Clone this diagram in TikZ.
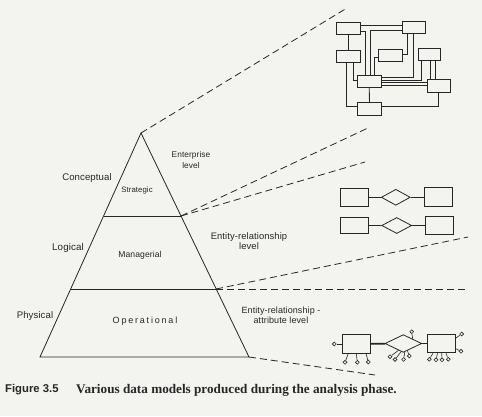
\documentclass[tikz,border=0pt]{standalone}
\usepackage{fontspec}
\setmainfont{Liberation Serif}
\newfontfamily\labfont[LetterSpace=1]{Liberation Sans}
\newfontfamily\opfont[LetterSpace=20]{Liberation Sans}
\newfontfamily\capsans{Liberation Sans}
\usetikzlibrary{shapes.geometric}
\definecolor{paper}{RGB}{243,243,240}
\definecolor{ink}{RGB}{38,38,38}
\begin{document}
\begin{tikzpicture}[x=1pt,y=-1pt,
  lab/.style={font=\labfont\fontsize{9.6}{11}\selectfont, inner sep=0, text=ink, align=center},
  box/.style={draw=ink, line width=0.9pt, inner sep=0, minimum width=24pt, minimum height=12pt},
  erbox/.style={draw=ink, line width=0.8pt, inner sep=0, minimum width=28pt, minimum height=18pt},
  rel/.style={diamond, draw=ink, line width=0.8pt, inner sep=0, minimum width=29pt, minimum height=16pt},
  attr/.style={circle, draw=ink, line width=0.6pt, inner sep=0, minimum size=3.8pt, fill=paper},
  link/.style={draw=ink, line width=0.9pt},
  erlink/.style={draw=ink, line width=1.1pt},
  eralink/.style={draw=ink, line width=1.8pt},
  alink/.style={draw=ink, line width=0.6pt},
  pyr/.style={draw=ink, line width=0.8pt, line join=miter},
  dashline/.style={draw=ink, line width=0.8pt, dash pattern=on 7pt off 4pt}]
\useasboundingbox (0,0) rectangle (482,416);
\fill[paper] (0,0) rectangle (482,416);

% pyramid corners
\coordinate (A) at (141,133);
\coordinate (SL) at (104,216);
\coordinate (SR) at (181,216);
\coordinate (ML) at (71,289);
\coordinate (MR) at (216,289);
\coordinate (BL) at (40,357);
\coordinate (BR) at (249,357);
\draw[pyr] (A) -- (BL) -- (BR) -- cycle;
\draw[pyr] (SL) -- (SR);
\draw[pyr] (ML) -- (MR);

% dashed projection lines
\coordinate (E1) at (347,8);
\coordinate (E2) at (370,127);
\coordinate (E3) at (365,162);
\coordinate (E4) at (468,237);
\coordinate (E5) at (468,289);
\coordinate (E6) at (375,375);
\draw[dashline] (A) -- (E1);
\draw[dashline] (SR) -- (E2);
\draw[dashline] (SR) -- (E3);
\draw[dashline] (MR) -- (E4);
\draw[dashline] (MR) -- (E5);
\draw[dashline] (BR) -- (E6);

% labels
\node[lab] (conc) at (87,178) {Conceptual};
\node[lab, font=\labfont\fontsize{7.8}{9}\selectfont] (strat) at (137,190) {Strategic};
\node[lab, font=\labfont\fontsize{8.3}{11}\selectfont] (ent) at (191,160.5) {Enterprise\\level};
\node[lab, font=\labfont\fontsize{9.8}{11}\selectfont] (logi) at (68,248) {Logical};
\node[lab, font=\labfont\fontsize{8.6}{10}\selectfont] (mana) at (140,255) {Managerial};
\node[lab, font=\labfont\fontsize{9.4}{9.8}\selectfont] (erl) at (249,241.3) {Entity-relationship\\level};
\node[lab] (phys) at (35,316) {Physical};
\node[lab, font=\opfont\fontsize{9}{10}\selectfont] (oper) at (145,321) {Operational};
\node[lab, font=\labfont\fontsize{9}{9.6}\selectfont] (eral) at (281,315.3) {Entity-relationship -\\attribute level};

% enterprise network
\node[box] (B1) at (348.7,28.5) {};
\node[box, minimum width=22.3pt] (B2) at (413.8,27.5) {};
\node[box] (B3) at (348.7,56.2) {};
\node[box] (B4) at (390.3,55.2) {};
\node[box, minimum width=22.4pt, minimum height=12.4pt] (B5) at (429.5,54.5) {};
\node[box, minimum height=12.7pt] (B6) at (369.2,81.3) {};
\node[box, minimum width=22.7pt, minimum height=13pt] (B7) at (438.7,85.8) {};
\node[box, minimum height=12.7pt] (B8) at (369.5,108.7) {};
\draw[link] (B1.east |- 0,25.7) -- (B2.west |- 0,25.7);
\draw[link] (B1.south) -- (B3.north);
\draw[link] (B1.east |- 0,31) -| (365.7,0 |- B6.north);
\draw[link] (B2.west |- 0,30.5) -| (370.7,0 |- B6.north);
\draw[link] (B4.west |- 0,57) -| (374.5,0 |- B6.north);
\draw[link] (B2.south -| 407.3,0) |- (B4.east |- 0,54.3);
\draw[link] (B2.south -| 413.3,0) |- (B6.east |- 0,77.3);
\draw[link] (B5.south -| 421.7,0) |- (B6.east |- 0,80);
\draw[link] (B5.south -| 430.5,0) -- (B7.north -| 430.5,0);
\draw[link] (B5.south -| 435.5,0) -- (B7.north -| 435.5,0);
\draw[link] (B6.east |- 0,82.7) -- (B7.west |- 0,82.7);
\draw[link] (B6.east |- 0,85.5) -- (B7.west |- 0,85.5);
\draw[link] (B7.south -| 438.3,0) |- (B8.east |- 0,106.7);
\draw[link] (B6.south) -- (B8.north);
\draw[link] (B3.south -| 353.3,0) |- (B6.west |- 0,80);
\draw[link] (B3.south -| 346,0) |- (B8.west |- 0,106.7);

% entity-relationship diagrams
\node[erbox] (L1) at (354.2,197.3) {};
\node[rel] (D1) at (395.8,197.3) {};
\node[erbox, minimum height=19pt] (R1) at (438.7,197.3) {};
\draw[erlink] (L1) -- (D1);
\draw[erlink] (D1) -- (R1);
\node[erbox, minimum height=16.5pt] (L2) at (354.2,225.5) {};
\node[rel, minimum width=30pt] (D2) at (396.7,225.5) {};
\node[erbox] (R2) at (439.7,225.5) {};
\draw[erlink] (L2) -- (D2);
\draw[erlink] (D2) -- (R2);

% entity-relationship-attribute diagram
\node[erbox, minimum width=27.3pt, minimum height=18.3pt] (LB) at (356.3,344) {};
\node[rel, minimum width=36.7pt, minimum height=17.7pt] (DD) at (403.3,343.5) {};
\node[erbox, minimum width=27.7pt, minimum height=18.7pt] (RB) at (441.2,343.5) {};
\draw[eralink] (LB) -- (DD);
\draw[eralink] (DD) -- (RB);
\node[attr] (a1) at (334.3,344) {};
\node[attr] (a2) at (345,362.3) {};
\node[attr] (a3) at (357.3,362.3) {};
\node[attr] (a4) at (368.3,362) {};
\node[attr] (a5) at (411.7,331.7) {};
\node[attr] (a6) at (390,356.7) {};
\node[attr] (a7) at (395,359.5) {};
\node[attr] (a8) at (403.6,359.5) {};
\node[attr] (a9) at (409.3,356) {};
\node[attr] (a10) at (461.7,334) {};
\node[attr] (a11) at (461,351.3) {};
\node[attr] (a12) at (429.3,359.3) {};
\node[attr] (a13) at (436,359.8) {};
\node[attr] (a14) at (442,359.8) {};
\node[attr] (a15) at (448.3,359.3) {};
\draw[alink] (LB.west) -- (a1);
\draw[alink] (LB.south -| 348.3,0) -- (a2);
\draw[alink] (LB.south) -- (a3);
\draw[alink] (LB.south -| 366,0) -- (a4);
\draw[alink] (DD.north east) -- (a5);
\draw[alink] (DD.235) -- (a6);
\draw[alink] (DD.255) -- (a7);
\draw[alink] (DD.280) -- (a8);
\draw[alink] (DD.300) -- (a9);
\draw[alink] (RB.east |- 0,338.3) -- (a10);
\draw[alink] (RB.east |- 0,348.5) -- (a11);
\draw[alink] (RB.south -| 433,0) -- (a12);
\draw[alink] (RB.south -| 437.5,0) -- (a13);
\draw[alink] (RB.south -| 441.7,0) -- (a14);
\draw[alink] (RB.south -| 446,0) -- (a15);

% caption
\node[anchor=west, inner sep=0, text=ink, font=\capsans\bfseries\fontsize{11.3}{13}\selectfont] (fig) at (5,390) {Figure 3.5};
\node[anchor=west, inner sep=0, text=ink, font=\bfseries\fontsize{13.2}{15}\selectfont] (cap) at (76,390) {Various data models produced during the analysis phase.};
\end{tikzpicture}
\end{document}
